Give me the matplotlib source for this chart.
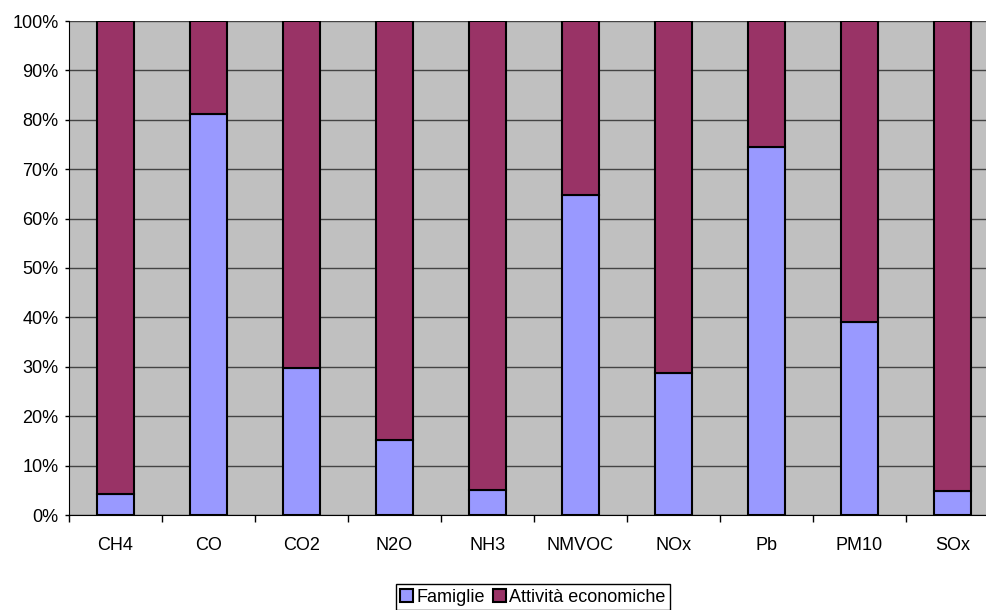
import matplotlib.pyplot as plt
from matplotlib.patches import Patch
from matplotlib.ticker import PercentFormatter

plt.rcParams['font.family'] = ['Liberation Sans', 'DejaVu Sans']

inquinanti = ["CH4", "CO", "CO2", "N2O", "NH3", "NMVOC", "NOx", "Pb", "PM10", "SOx"]
famiglie = [4.2, 81.2, 29.7, 15.1, 5.1, 64.8, 28.8, 74.5, 39.1, 4.8]
attivita = [100 - f for f in famiglie]

col_fam = "#9999FF"
col_att = "#993366"

fig = plt.figure(figsize=(9.86, 6.10), dpi=100)
ax = fig.add_axes([69 / 986, 1 - 515 / 610, 930 / 986, 494 / 610])
ax.set_facecolor("#C0C0C0")

x = range(len(inquinanti))
ax.bar(x, famiglie, width=0.4, color=col_fam, edgecolor="black", linewidth=1.5, zorder=3)
ax.bar(x, attivita, width=0.4, bottom=famiglie, color=col_att, edgecolor="black",
       linewidth=1.5, zorder=3)

ax.set_xlim(-0.5, len(inquinanti) - 0.5)
ax.set_ylim(0, 100)
ax.set_yticks(range(0, 101, 10))
ax.yaxis.set_major_formatter(PercentFormatter(decimals=0))
ax.set_xticks(list(x))
ax.set_xticklabels(inquinanti)
ax.set_xticks([i - 0.5 for i in range(len(inquinanti) + 1)], minor=True)
ax.tick_params(axis="x", which="major", length=0, pad=16, labelsize=13)
ax.tick_params(axis="x", which="minor", length=5, width=1, color="black")
ax.tick_params(axis="y", length=3, width=1, labelsize=13, pad=4.5)

ax.grid(axis="y", color="#444444", linewidth=1, zorder=1)
for s in ["top", "right"]:
    ax.spines[s].set_visible(False)
ax.spines["left"].set_color("black")
ax.spines["bottom"].set_color("black")
ax.spines["bottom"].set_zorder(4)

# legenda in basso, tagliata dal bordo come nell'originale
handles = [Patch(facecolor=col_fam, edgecolor="black", linewidth=1.5, label="Famiglie"),
           Patch(facecolor=col_att, edgecolor="black", linewidth=1.5, label="Attività economiche")]
leg = fig.legend(handles=handles, loc="upper center", bbox_to_anchor=(533 / 986, 1 - 584 / 610),
                 ncol=2, fontsize=13, fancybox=False, edgecolor="black", framealpha=1,
                 handlelength=0.7, handleheight=0.7, handletextpad=0.2, columnspacing=0.45,
                 borderpad=0.25, borderaxespad=0)
leg.get_frame().set_linewidth(1)

fig.savefig("out.png", dpi=100)
